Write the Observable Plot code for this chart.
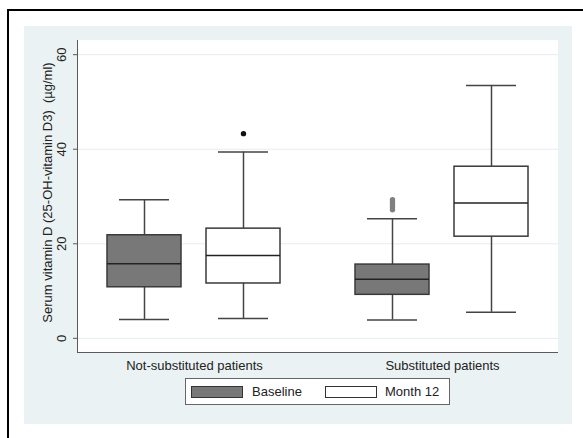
<!DOCTYPE html>
<html><head><meta charset="utf-8">
<script src="https://cdn.jsdelivr.net/npm/d3@7"></script>
<script src="https://cdn.jsdelivr.net/npm/@observablehq/plot@0.6"></script>
<style>
body{margin:0;background:#fff;font-family:"Liberation Sans",Arial,sans-serif;}
#wrap{position:relative;width:583px;height:438px;overflow:hidden;}
#border{position:absolute;left:7px;top:9px;width:700px;height:600px;border-left:2px solid #000;border-top:2px solid #000;}
#panel{position:absolute;left:24px;top:26px;width:548px;height:398px;background:#eaf2f3;}
#plotbg{position:absolute;left:77px;top:40px;width:481px;height:313px;background:#fff;border-left:1.5px solid #5a5a5a;border-bottom:1.5px solid #5a5a5a;box-sizing:border-box;}
#grid,#chart{position:absolute;left:24px;top:26px;}
#legend{position:absolute;left:185px;top:378px;width:265px;height:27px;background:#fff;border:1.3px solid #666;box-sizing:border-box;font-size:13px;color:#222;}
.sw{position:absolute;top:7px;width:52px;height:12px;border:1.3px solid #333;box-sizing:border-box;}
.lt{position:absolute;top:5px;line-height:15px;}
</style>
</head><body>
<div id="wrap">
  <div id="border"></div>
  <div id="panel"></div>
  <div id="plotbg"></div>
  <div id="grid"></div>
  <div id="chart"></div>
  <div id="legend"></div>
</div>
<script>
// ---- data ----
const groups = ["Not-substituted patients", "Substituted patients"];
const series = ["Baseline", "Month 12"];
const seriesColors = ["#787878", "#ffffff"];
const boxGroup = [groups[0], groups[0], groups[1], groups[1]];
const boxSeries = [series[0], series[1], series[0], series[1]];
const lowerWhisker = [4.0, 4.2, 3.9, 5.5];
const q1 = [10.8, 11.6, 9.2, 21.5];
const median = [15.8, 17.5, 12.5, 28.6];
const q3 = [21.8, 23.2, 15.6, 36.3];
const upperWhisker = [29.3, 39.4, 25.3, 53.5];
const outlierGroup = [groups[0], groups[1], groups[1], groups[1], groups[1], groups[1]];
const outlierSeries = [series[1], series[0], series[0], series[0], series[0], series[0]];
const outlierValue = [43.3, 27.2, 27.8, 28.3, 28.8, 29.3];
const yTicks = [0, 20, 40, 60];
const yDomain = [-3, 63];
const yTitle = "Serum vitamin D (25-OH-vitamin D3)  (\u00b5g/ml)";

const rows = boxGroup.map((g, i) => ({group: g, series: boxSeries[i], lo: lowerWhisker[i], q1: q1[i], med: median[i], q3: q3[i], hi: upperWhisker[i]}));
const outs = outlierGroup.map((g, i) => ({group: g, series: outlierSeries[i], value: outlierValue[i]}));

const frameOpts = {width: 548, height: 352, marginLeft: 54, marginRight: 14, marginTop: 14, marginBottom: 26};
const font = "'Liberation Sans', Arial, sans-serif";
const line = {stroke: "#444", strokeWidth: 1.5};

// background layer: gridlines across the full plot area, y axis ticks, labels and title
const grid = Plot.plot({
  ...frameOpts,
  style: {background: "transparent", fontFamily: font, fontSize: "13px", color: "#222", overflow: "visible"},
  x: {axis: null},
  y: {domain: yDomain, axis: null},
  marks: [
    Plot.ruleY(yTicks, {stroke: "#e5edf0", strokeWidth: 1}),
    Plot.axisY({ticks: yTicks, tickSize: 5, tickFormat: () => "", label: null, stroke: "#5a5a5a"}),
    Plot.text(yTicks, {y: d => d, text: d => String(d), frameAnchor: "left", rotate: -90, dx: -17, textAnchor: "middle", lineAnchor: "middle", fill: "#222"}),
    Plot.text([yTitle], {text: d => d, frameAnchor: "left", rotate: -90, dx: -31, dy: -4, textAnchor: "middle", lineAnchor: "middle", fill: "#222"})
  ]
});
document.getElementById("grid").appendChild(grid);

const chart = Plot.plot({
  ...frameOpts,
  style: {background: "transparent", fontFamily: font, fontSize: "13px", color: "#222", overflow: "visible"},
  fx: {domain: groups, paddingInner: 0.065, paddingOuter: 0, label: null},
  x: {domain: series, paddingInner: 0.2525, paddingOuter: 0.293, axis: null},
  y: {domain: yDomain, axis: null},
  color: {domain: series, range: seriesColors},
  marks: [
    Plot.axisFx({anchor: "bottom", tickSize: 0, tickPadding: 8, label: null, fontSize: 13}),
    Plot.ruleX(rows, {fx: "group", x: "series", y1: "lo", y2: "q1", ...line}),
    Plot.ruleX(rows, {fx: "group", x: "series", y1: "q3", y2: "hi", ...line}),
    Plot.tickY(rows, {fx: "group", x: "series", y: "lo", insetLeft: 12, insetRight: 12, ...line}),
    Plot.tickY(rows, {fx: "group", x: "series", y: "hi", insetLeft: 12, insetRight: 12, ...line}),
    Plot.barY(rows, {fx: "group", x: "series", y1: "q1", y2: "q3", fill: "series", stroke: "#3a3a3a", strokeWidth: 1.5}),
    Plot.tickY(rows, {fx: "group", x: "series", y: "med", stroke: "#222", strokeWidth: 1.5}),
    Plot.dot(outs, {fx: "group", x: "series", y: "value", r: 2.7, fill: "#808080", stroke: "none", filter: d => d.series === series[0]}),
    Plot.dot(outs, {fx: "group", x: "series", y: "value", r: 2.7, fill: "#111", stroke: "none", filter: d => d.series === series[1]})
  ]
});
document.getElementById("chart").appendChild(chart);

// legend (HTML, below the plot area)
const legend = document.getElementById("legend");
const swLeft = [5, 139], txtLeft = [66, 199];
series.forEach((s, i) => {
  const sw = document.createElement("div");
  sw.className = "sw"; sw.style.left = swLeft[i] + "px"; sw.style.background = seriesColors[i];
  legend.appendChild(sw);
  const t = document.createElement("div");
  t.className = "lt"; t.style.left = txtLeft[i] + "px"; t.textContent = s;
  legend.appendChild(t);
});
</script>
</body></html>
